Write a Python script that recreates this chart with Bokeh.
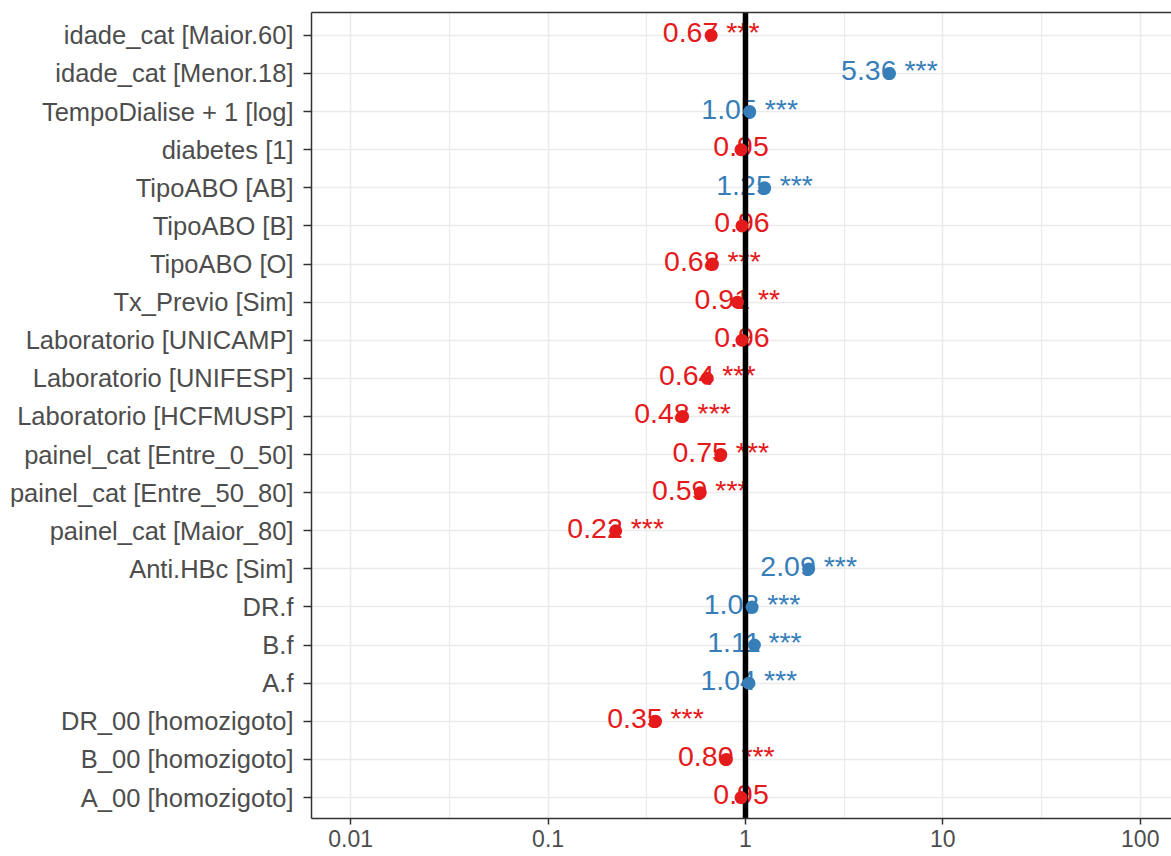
from bokeh.plotting import figure
from bokeh.models import Range1d, FixedTicker, ColumnDataSource, LinearAxis
from bokeh.core.properties import value
from bokeh.embed import file_html
from bokeh.resources import INLINE

# Model terms, top to bottom
terms = [
    "idade_cat [Maior.60]",
    "idade_cat [Menor.18]",
    "TempoDialise + 1 [log]",
    "diabetes [1]",
    "TipoABO [AB]",
    "TipoABO [B]",
    "TipoABO [O]",
    "Tx_Previo [Sim]",
    "Laboratorio [UNICAMP]",
    "Laboratorio [UNIFESP]",
    "Laboratorio [HCFMUSP]",
    "painel_cat [Entre_0_50]",
    "painel_cat [Entre_50_80]",
    "painel_cat [Maior_80]",
    "Anti.HBc [Sim]",
    "DR.f",
    "B.f",
    "A.f",
    "DR_00 [homozigoto]",
    "B_00 [homozigoto]",
    "A_00 [homozigoto]",
]
odds_ratios = [0.67, 5.36, 1.05, 0.95, 1.25, 0.96, 0.68, 0.91, 0.96, 0.64, 0.48,
               0.75, 0.59, 0.22, 2.09, 1.08, 1.11, 1.04, 0.35, 0.80, 0.95]
stars = ["***", "***", "***", "", "***", "", "***", "**", "", "***", "***",
         "***", "***", "***", "***", "***", "***", "***", "***", "***", ""]

x_ticks = [0.01, 0.1, 1, 10, 100]
x_tick_labels = ["0.01", "0.1", "1", "10", "100"]
x_minor = [10 ** -2.5, 10 ** -1.5, 10 ** -0.5, 10 ** 0.5, 10 ** 1.5]
null_value = 1.0

RED = "#E41A1C"
BLUE = "#377EB8"
FONT = "Liberation Sans"

n = len(terms)
ypos = [n - i for i in range(n)]
colors = [BLUE if v > 1 else RED for v in odds_ratios]
labels = [f"{v:.2f} {s}".rstrip() for v, s in zip(odds_ratios, stars)]

src = ColumnDataSource(dict(x=odds_ratios, y=ypos, color=colors, label=labels))

y_lo, y_hi = 0.45, n + 0.6

p = figure(
    width=1171, height=856,
    x_axis_type="log",
    x_range=Range1d(0.00633, 144),
    y_range=Range1d(y_lo, y_hi),
    output_backend="svg", toolbar_location=None,
    min_border_left=311, min_border_right=0, min_border_top=12, min_border_bottom=38,
)
p.outline_line_color = None
p.background_fill_color = "white"
p.border_fill_color = "white"

# grids
p.xaxis.ticker = FixedTicker(ticks=x_ticks, minor_ticks=x_minor)
p.yaxis.ticker = FixedTicker(ticks=ypos)
p.xgrid.grid_line_color = "#EBEBEB"
p.xgrid.grid_line_width = 1.6
p.xgrid.minor_grid_line_color = "#EBEBEB"
p.xgrid.minor_grid_line_width = 1.2
p.ygrid.grid_line_color = "#EBEBEB"
p.ygrid.grid_line_width = 1.6

# axes
for ax in (p.xaxis[0], p.yaxis[0]):
    ax.axis_line_color = "#333333"
    ax.axis_line_width = 1.5
    ax.major_tick_line_color = "#333333"
    ax.major_tick_line_width = 1.5
    ax.major_tick_in = 0
    ax.minor_tick_line_color = None
    ax.major_label_text_color = "#4D4D4D"
    ax.major_label_text_font = FONT

p.yaxis.major_label_overrides = {y: t for y, t in zip(ypos, terms)}
p.yaxis.major_label_text_font_size = "25.5px"
p.yaxis.major_tick_out = 8
p.yaxis.major_label_standoff = 10
p.xaxis.major_label_overrides = {t: s for t, s in zip(x_ticks, x_tick_labels)}
p.xaxis.major_label_text_font_size = "23px"
p.xaxis.major_tick_out = 6
p.xaxis.major_label_standoff = 5

top = LinearAxis(ticker=FixedTicker(ticks=[]), major_label_text_font_size="0px",
                 axis_line_color="#333333", axis_line_width=1.5,
                 major_tick_line_color=None, minor_tick_line_color=None)
p.add_layout(top, "above")

# value labels
p.text(x="x", y="y", text="label", source=src, text_color="color",
       text_align="center", text_baseline="middle", y_offset=-3,
       text_font_size="28.5px", text_font=value(FONT))

# reference line at OR = 1
p.segment(x0=null_value, y0=y_lo, x1=null_value, y1=y_hi, line_color="black", line_width=5.5)

# estimates
p.scatter(x="x", y="y", source=src, size=13, color="color", line_color=None)

open("out.html", "w").write(file_html(p, INLINE))
